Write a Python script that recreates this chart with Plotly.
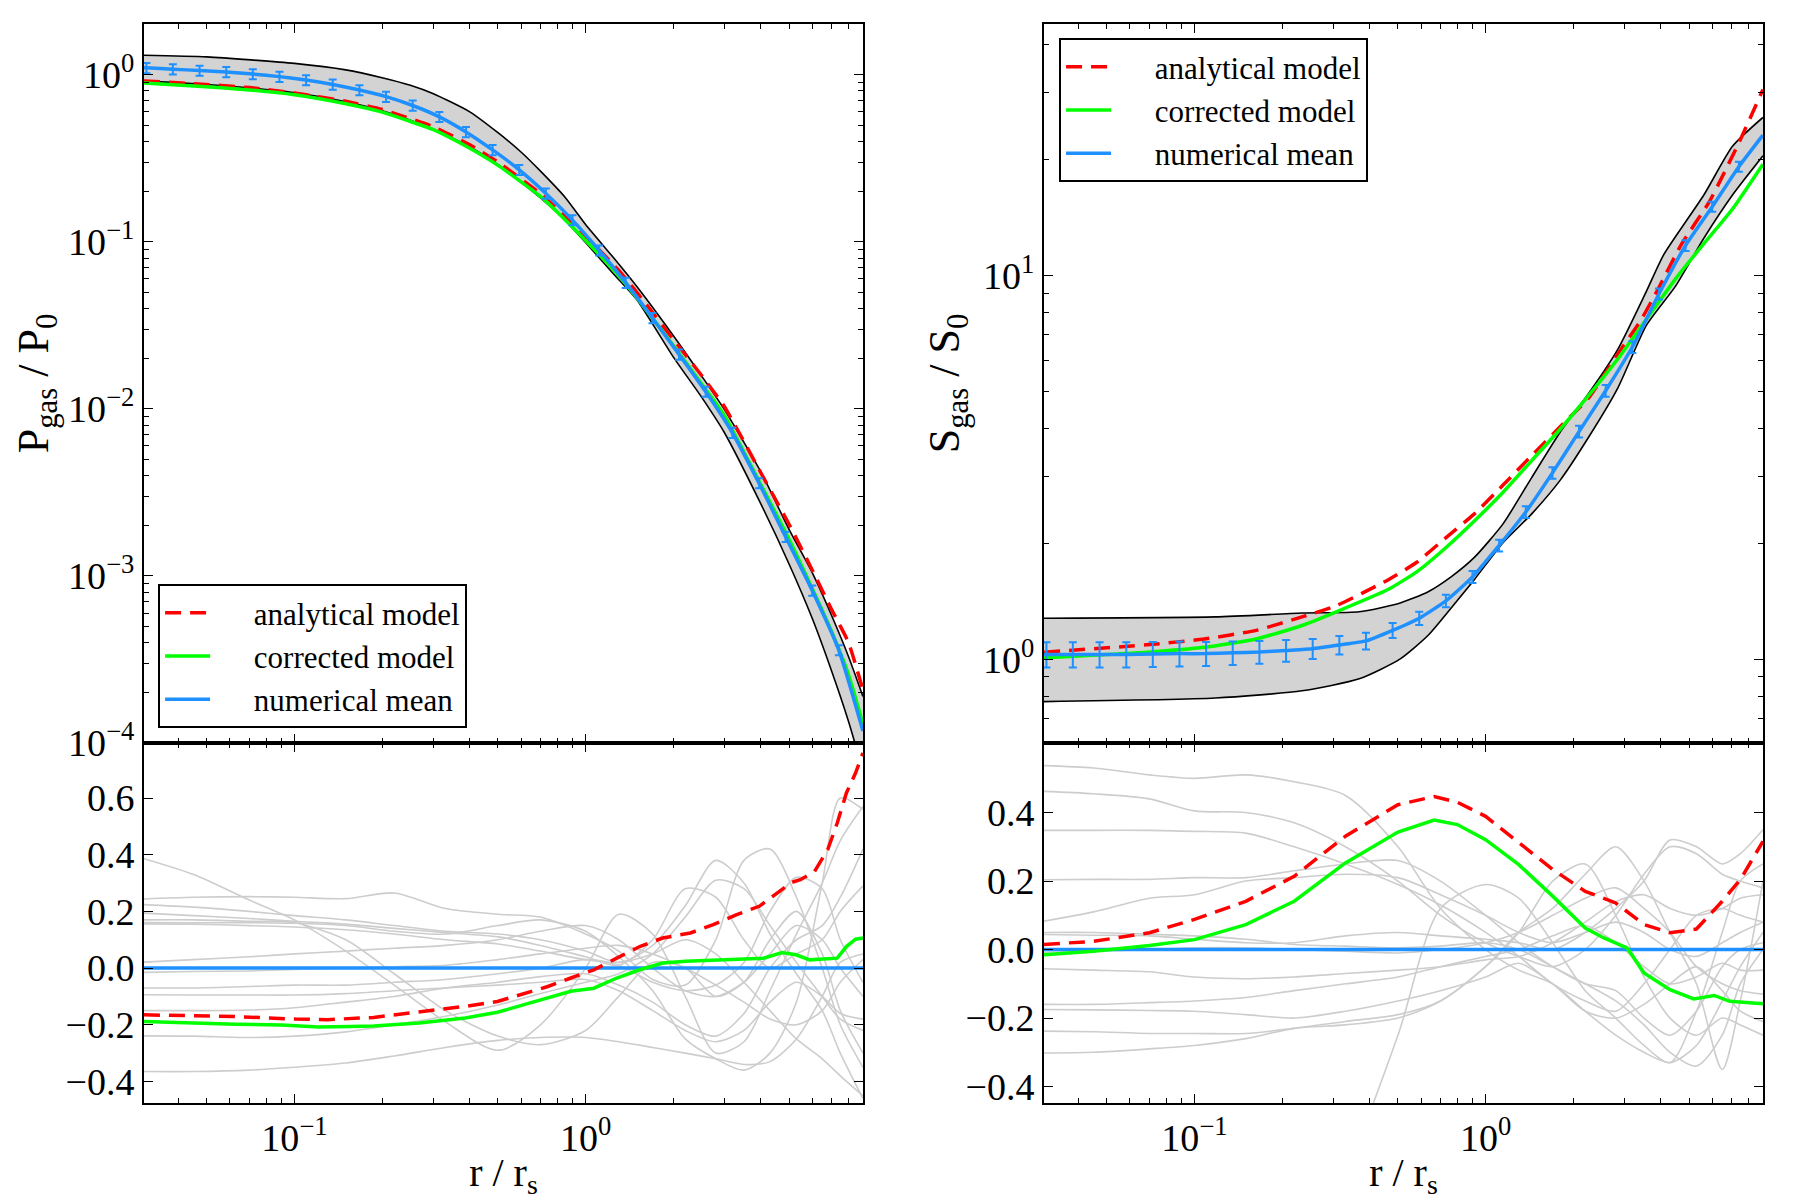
import plotly.graph_objects as go

FONT = "Liberation Serif"
BLUE = "#1E90FF"
GREEN = "#00FF00"
RED = "#FF0000"
SIMGRAY = "#CDCDCD"
BANDGRAY = "#D3D3D3"

# ---------------- data ----------------
# radial bins of the numerical mean (error-bar locations)
R_BINS = [0.0310, 0.0382, 0.0472, 0.0583, 0.0719, 0.0888, 0.1096, 0.1353, 0.1671,
          0.2063, 0.2547, 0.3145, 0.3882, 0.4793, 0.5916, 0.7304, 0.9016, 1.113,
          1.374, 1.697, 2.094, 2.585, 3.192, 3.940, 4.864, 6.005, 7.413]
R_EDGES = [0.0304, 8.97]

# --- pressure, top-left ---
P_MEAN = [1.10, 1.08, 1.06, 1.04, 1.01, 0.975, 0.93, 0.875, 0.81, 0.74, 0.655, 0.56,
          0.455, 0.355, 0.27, 0.195, 0.135, 0.089, 0.057, 0.035, 0.0212, 0.0127,
          0.0072, 0.0036, 0.00172, 0.00082, 0.00036]
P_MEAN_EDGES = [1.10, 0.000118]
P_ERR_FRAC = [0.07] * 27

P_MODEL_R = [0.0304, 0.045, 0.07, 0.1, 0.15, 0.2, 0.3, 0.4, 0.5, 0.7, 1.0, 1.3, 1.6,
             2.0, 2.5, 3.0, 4.0, 5.0, 6.0, 7.0, 8.0, 8.97]
P_ANALYTIC = [0.918, 0.885, 0.838, 0.779, 0.694, 0.620, 0.488, 0.381, 0.300, 0.194,
              0.108, 0.0675, 0.0432, 0.0261, 0.0159, 0.0103, 0.00415, 0.00204,
              0.00109, 0.00063, 0.00040, 0.000208]
P_CORRECTED = [0.893, 0.858, 0.812, 0.759, 0.671, 0.598, 0.469, 0.363, 0.287, 0.187,
               0.102, 0.0627, 0.040, 0.024, 0.0142, 0.0091, 0.00352, 0.00166,
               0.000845, 0.000465, 0.000257, 0.0001305]

P_BAND_R = [0.0304, 0.05, 0.1, 0.15, 0.2, 0.25, 0.3, 0.4, 0.5, 0.6, 0.7, 0.85, 1.0, 1.25,
            1.5, 2.0, 2.5, 3.0, 4.0, 5.0, 6.0, 7.0, 8.0, 8.97]
P_BAND_UP = [1.31, 1.28, 1.17, 1.07, 0.96, 0.865, 0.77, 0.60, 0.45, 0.345, 0.265, 0.185,
             0.127, 0.080, 0.054, 0.0275, 0.0158, 0.0099, 0.0042, 0.0019, 0.00105,
             0.00058, 0.00033, 0.00019]
P_BAND_LO = [0.92, 0.875, 0.78, 0.69, 0.61, 0.535, 0.47, 0.37, 0.29, 0.228, 0.183, 0.135,
             0.099, 0.064, 0.045, 0.0205, 0.0118, 0.0072, 0.0027, 0.00118, 0.00056,
             0.00027, 0.000135, 0.000068]

# --- entropy, top-right ---
S_MEAN = [1.03, 1.03, 1.03, 1.03, 1.033, 1.035, 1.035, 1.04, 1.045, 1.055, 1.066, 1.09,
          1.117, 1.19, 1.28, 1.42, 1.64, 1.98, 2.42, 3.06, 3.92, 5.01, 6.51, 8.95,
          11.97, 15.1, 19.2]
S_MEAN_EDGES = [1.03, 23.2]
S_ERR_FRAC = [0.075, 0.075, 0.075, 0.075, 0.075, 0.075, 0.072, 0.07, 0.068, 0.065,
              0.06, 0.055, 0.05, 0.045, 0.04, 0.038, 0.036, 0.035, 0.035, 0.035,
              0.035, 0.035, 0.035, 0.033, 0.032, 0.03, 0.03]

S_AN_R = [0.0304, 0.0686, 0.108, 0.163, 0.234, 0.307, 0.462, 0.58, 0.728, 0.913, 1.146,
          1.438, 1.80, 2.26, 2.84, 3.41, 3.91, 4.69, 5.88, 7.38, 8.97]
S_ANALYTIC = [1.044, 1.091, 1.13, 1.19, 1.29, 1.38, 1.61, 1.79, 2.07, 2.39, 2.84, 3.39,
              4.03, 4.80, 6.23, 7.63, 9.2, 12.0, 15.6, 22.0, 30.5]
S_CO_R = [0.0304, 0.0686, 0.108, 0.163, 0.234, 0.307, 0.462, 0.58, 0.728, 0.913, 1.146,
          1.438, 1.80, 2.26, 2.84, 3.54, 4.48, 5.62, 7.05, 8.97]
S_CORRECTED = [1.01, 1.044, 1.075, 1.13, 1.225, 1.33, 1.52, 1.69, 1.95, 2.29, 2.72,
               3.29, 3.97, 4.87, 6.05, 7.63, 9.77, 12.1, 14.9, 19.5]

S_BAND_UP_R = [0.0304, 0.118, 0.234, 0.368, 0.506, 0.635, 0.761, 0.913, 1.146, 1.438,
               1.805, 2.264, 2.842, 3.567, 4.085, 5.62, 7.05, 8.97]
S_BAND_UP = [1.28, 1.29, 1.32, 1.33, 1.40, 1.50, 1.64, 1.84, 2.25, 2.97, 3.91, 4.94,
             6.41, 9.09, 11.3, 16.2, 21.7, 25.8]
S_BAND_LO_R = [0.0304, 0.118, 0.234, 0.368, 0.506, 0.635, 0.797, 0.913, 1.146, 1.438,
               1.805, 2.264, 2.842, 3.567, 4.48, 5.62, 7.05, 8.97]
S_BAND_LO = [0.776, 0.793, 0.828, 0.89, 1.0, 1.156, 1.42, 1.61, 2.01, 2.39, 2.93, 3.80,
             5.08, 7.41, 9.35, 12.5, 16.2, 20.5]

# --- residuals, bottom panels ---
RES_MEAN_R = [0.0304, 8.97]
RES_MEAN = [0.0, 0.0]

RES_P_AN_R = [0.0304, 0.0436, 0.0627, 0.1006, 0.130, 0.187, 0.268, 0.386, 0.498, 0.619,
              0.742, 0.890, 1.067, 1.280, 1.535, 1.840, 2.290, 2.745, 3.29, 3.95, 4.56,
              5.09, 5.47, 6.12, 6.79, 7.32, 7.87, 8.46, 8.97]
RES_P_AN = [-0.165, -0.168, -0.171, -0.180, -0.182, -0.174, -0.156, -0.135, -0.118,
            -0.088, -0.065, -0.035, -0.006, 0.035, 0.076, 0.106, 0.124, 0.153, 0.188,
            0.218, 0.265, 0.302, 0.312, 0.341, 0.418, 0.512, 0.618, 0.688, 0.759]
RES_P_CO_R = [0.0304, 0.0436, 0.0627, 0.0902, 0.121, 0.156, 0.187, 0.268, 0.386, 0.498,
              0.619, 0.742, 0.890, 1.067, 1.280, 1.535, 1.840, 2.207, 2.845, 3.41, 4.09,
              4.73, 5.28, 5.89, 6.56, 7.32, 7.87, 8.46, 8.97]
RES_P_CO = [-0.188, -0.194, -0.198, -0.201, -0.208, -0.206, -0.204, -0.194, -0.176,
            -0.156, -0.129, -0.106, -0.082, -0.071, -0.035, -0.006, 0.018, 0.024, 0.029,
            0.032, 0.035, 0.055, 0.047, 0.029, 0.032, 0.035, 0.076, 0.102, 0.106]

RES_S_AN_R = [0.0304, 0.045, 0.07, 0.1, 0.15, 0.22, 0.33, 0.5, 0.666, 0.8, 1.0, 1.3, 1.7,
              2.2, 2.8, 3.5, 4.3, 5.3, 6.5, 7.5, 8.97]
RES_S_AN = [0.015, 0.024, 0.049, 0.088, 0.141, 0.214, 0.331, 0.423, 0.447, 0.43, 0.389,
            0.311, 0.234, 0.170, 0.136, 0.073, 0.049, 0.060, 0.141, 0.204, 0.316]
RES_S_CO_R = [0.0304, 0.045, 0.07, 0.1, 0.15, 0.22, 0.33, 0.5, 0.666, 0.8, 1.0, 1.3, 1.7,
              2.2, 2.55, 2.8, 3.06, 3.5, 4.3, 5.19, 6.1, 6.9, 8.97]
RES_S_CO = [-0.015, -0.005, 0.012, 0.029, 0.073, 0.141, 0.253, 0.343, 0.378, 0.365,
            0.321, 0.248, 0.156, 0.063, 0.034, 0.019, 0.005, -0.068, -0.117, -0.144,
            -0.134, -0.151, -0.158]

# individual simulated clusters (grey), sampled at R_SIM
R_SIM = [0.0304, 0.045, 0.07, 0.1, 0.15, 0.22, 0.33, 0.5, 0.7, 1.0, 1.3, 1.7, 2.2, 2.8,
         3.5, 4.3, 5.3, 6.5, 7.5, 8.97]
P_SIMS = [
    [0.386, 0.33, 0.24, 0.17, 0.06, -0.06, -0.19, -0.29, -0.20, 0.00, 0.19, 0.12, -0.10, -0.30, -0.26, -0.08, 0.12, 0.30, 0.45, 0.57],
    [0.244, 0.25, 0.252, 0.25, 0.245, 0.265, 0.21, 0.19, 0.18, 0.12, 0.06, -0.04, -0.06, 0.10, 0.38, 0.42, 0.25, 0.00, -0.20, -0.35],
    [0.224, 0.215, 0.20, 0.185, 0.17, 0.15, 0.13, 0.12, 0.10, 0.06, 0.02, 0.08, 0.22, 0.38, 0.30, 0.12, -0.02, -0.15, -0.30, -0.46],
    [0.194, 0.185, 0.175, 0.165, 0.155, 0.14, 0.125, 0.11, 0.08, 0.04, 0.01, 0.10, 0.28, 0.25, 0.10, 0.00, 0.05, 0.10, 0.20, 0.29],
    [0.161, 0.16, 0.16, 0.158, 0.15, 0.13, 0.12, 0.15, 0.17, 0.13, 0.04, -0.08, -0.25, -0.32, -0.36, -0.30, -0.12, 0.30, 0.60, 0.56],
    [0.156, 0.155, 0.15, 0.145, 0.135, 0.12, 0.10, 0.085, 0.06, 0.03, 0.02, 0.05, 0.10, 0.05, -0.05, -0.15, -0.25, -0.32, -0.38, -0.45],
    [0.021, 0.03, 0.04, 0.05, 0.06, 0.07, 0.08, 0.10, 0.13, 0.15, 0.10, 0.00, -0.08, -0.10, -0.05, 0.05, 0.15, 0.10, 0.00, -0.10],
    [-0.015, -0.012, -0.01, -0.005, 0.0, 0.005, 0.01, 0.03, 0.05, 0.07, 0.08, 0.05, 0.0, -0.06, -0.12, -0.18, -0.20, -0.15, -0.05, 0.03],
    [-0.07, -0.07, -0.065, -0.06, -0.06, -0.05, -0.04, -0.02, 0.0, 0.03, 0.01, -0.05, -0.08, -0.06, 0.02, 0.20, 0.32, 0.28, 0.10, -0.05],
    [-0.094, -0.095, -0.095, -0.095, -0.09, -0.08, -0.07, -0.06, -0.05, -0.04, -0.08, -0.15, -0.22, -0.26, -0.22, -0.12, -0.05, -0.10, -0.16, -0.18],
    [-0.15, -0.15, -0.148, -0.14, -0.12, -0.10, -0.07, -0.05, -0.03, -0.02, -0.06, -0.12, -0.20, -0.24, -0.16, 0.00, 0.10, 0.15, 0.25, 0.42],
    [-0.239, -0.24, -0.245, -0.24, -0.225, -0.20, -0.17, -0.13, -0.09, -0.05, -0.02, 0.05, 0.18, 0.31, 0.28, 0.15, 0.02, -0.10, -0.18, -0.22],
    [-0.365, -0.365, -0.36, -0.35, -0.335, -0.31, -0.28, -0.255, -0.245, -0.245, -0.26, -0.28, -0.30, -0.32, -0.34, -0.33, -0.25, -0.10, 0.02, 0.05],
    [0.17, 0.17, 0.165, 0.16, 0.10, -0.02, -0.15, -0.24, -0.27, -0.22, -0.10, 0.02, 0.0, -0.10, -0.05, 0.10, 0.20, 0.05, -0.15, -0.30],
]
S_SIMS = [
    [0.537, 0.53, 0.51, 0.50, 0.51, 0.49, 0.45, 0.30, 0.12, 0.00, -0.06, -0.10, -0.18, -0.25, -0.30, -0.33, -0.28, -0.15, -0.05, 0.05],
    [0.462, 0.455, 0.44, 0.405, 0.40, 0.37, 0.30, 0.20, 0.10, 0.02, -0.02, -0.05, 0.0, 0.10, 0.22, 0.30, 0.28, 0.22, 0.20, 0.18],
    [0.348, 0.348, 0.348, 0.345, 0.34, 0.30, 0.25, 0.19, 0.13, 0.05, -0.02, -0.10, -0.15, -0.18, -0.10, 0.0, 0.10, 0.12, 0.10, 0.08],
    [0.204, 0.205, 0.205, 0.21, 0.21, 0.23, 0.25, 0.26, 0.20, 0.10, 0.02, -0.05, -0.10, -0.12, -0.20, -0.25, -0.18, -0.05, 0.0, 0.02],
    [0.083, 0.11, 0.15, 0.16, 0.20, 0.21, 0.22, 0.21, 0.16, 0.10, 0.05, 0.02, 0.05, 0.08, 0.05, 0.0, -0.02, 0.02, 0.05, 0.08],
    [0.05, 0.05, 0.045, 0.04, 0.03, 0.015, 0.01, 0.005, 0.01, 0.02, 0.0, -0.05, -0.10, -0.15, -0.22, -0.30, -0.34, -0.25, -0.10, 0.00],
    [0.044, 0.042, 0.04, 0.03, 0.02, 0.02, 0.04, 0.05, 0.04, 0.03, 0.02, 0.00, 0.05, 0.12, 0.20, 0.32, 0.30, 0.25, 0.28, 0.35],
    [-0.008, -0.005, 0.0, 0.005, 0.005, 0.0, -0.005, -0.01, 0.0, 0.02, 0.05, 0.10, 0.15, 0.18, 0.12, 0.05, -0.05, -0.10, -0.12, -0.13],
    [-0.056, -0.06, -0.065, -0.08, -0.085, -0.08, -0.07, -0.06, -0.05, -0.03, -0.02, 0.02, 0.08, 0.14, 0.16, 0.12, 0.10, 0.12, 0.15, 0.16],
    [-0.16, -0.16, -0.155, -0.15, -0.14, -0.12, -0.10, -0.08, -0.05, -0.02, 0.0, 0.04, 0.07, 0.02, -0.05, -0.10, -0.08, -0.04, -0.06, -0.06],
    [-0.175, -0.176, -0.178, -0.18, -0.19, -0.20, -0.18, -0.15, -0.12, -0.08, -0.04, -0.10, -0.18, -0.20, -0.16, -0.10, -0.05, -0.12, -0.18, -0.21],
    [-0.238, -0.24, -0.245, -0.245, -0.245, -0.23, -0.21, -0.19, -0.15, -0.05, 0.05, 0.12, 0.22, 0.30, 0.20, 0.05, -0.10, -0.35, -0.15, 0.20],
    [-0.302, -0.30, -0.29, -0.28, -0.26, -0.23, -0.22, -0.20, -0.15, -0.05, 0.05, 0.20, 0.25, 0.10, -0.08, -0.20, -0.25, -0.20, -0.22, -0.25],
    [-3.0, -2.5, -2.0, -1.6, -1.2, -0.9, -0.65, -0.25, 0.12, 0.19, 0.15, 0.02, -0.12, -0.20, -0.28, -0.33, -0.18, 0.05, 0.20, 0.25],
]

LEGEND_NAMES = ["analytical model", "corrected model", "numerical mean"]

# axis tick definitions
X_TICKS = [0.1, 1.0]
X_TICKTEXT = ["10<sup>\u22121</sup>", "10<sup>0</sup>"]
X_MINOR = [m * 10.0 ** e for e in (-2, -1, 0) for m in range(2, 10)]
P_TICKS = [1e-4, 1e-3, 1e-2, 1e-1, 1.0]
P_TICKTEXT = ["10<sup>\u22124</sup>", "10<sup>\u22123</sup>", "10<sup>\u22122</sup>",
              "10<sup>\u22121</sup>", "10<sup>0</sup>"]
P_MINOR = [m * 10.0 ** e for e in range(-4, 1) for m in range(2, 10)]
S_TICKS = [1.0, 10.0]
S_TICKTEXT = ["10<sup>0</sup>", "10<sup>1</sup>"]
S_MINOR = [m * 10.0 ** e for e in (-1, 0, 1) for m in range(2, 10)]

PAD = "\u00a0\u00a0\u00a0\u00a0\u00a0"

# ---------------- figure ----------------
fig = go.Figure()


def band(xu, yu, xl, yl, xa, ya):
    fig.add_trace(go.Scatter(x=xu + xl[::-1], y=yu + yl[::-1], fill="toself",
                             fillcolor=BANDGRAY, line=dict(width=0, shape="spline", smoothing=0.6),
                             mode="lines", xaxis=xa, yaxis=ya, showlegend=False, hoverinfo="skip"))
    for xx, yy in ((xu, yu), (xl, yl)):
        fig.add_trace(go.Scatter(x=xx, y=yy, mode="lines",
                                 line=dict(color="black", width=1.6, shape="spline", smoothing=0.6),
                                 xaxis=xa, yaxis=ya, showlegend=False, hoverinfo="skip"))


def mean_with_err(vals, edges, fracs, xa, ya, legend):
    fig.add_trace(go.Scatter(x=[R_EDGES[0]] + R_BINS + [R_EDGES[1]],
                             y=[edges[0]] + vals + [edges[1]], mode="lines",
                             line=dict(color=BLUE, width=3.5, shape="spline", smoothing=0.5),
                             name=PAD + LEGEND_NAMES[2],
                             xaxis=xa, yaxis=ya, legend=legend, showlegend=True))
    fig.add_trace(go.Scatter(x=R_BINS, y=vals, mode="markers",
                             marker=dict(color="rgba(0,0,0,0)", size=1),
                             error_y=dict(type="data", array=[v * f for v, f in zip(vals, fracs)],
                                          color=BLUE, thickness=2, width=4),
                             xaxis=xa, yaxis=ya, showlegend=False, hoverinfo="skip"))


def models(xa_r, an, co_r, co, xa, ya, legend):
    fig.add_trace(go.Scatter(x=xa_r, y=an, mode="lines", name=PAD + LEGEND_NAMES[0],
                             line=dict(color=RED, width=3.5, dash="16px,9px", shape="spline", smoothing=0.5),
                             xaxis=xa, yaxis=ya, legend=legend))
    fig.add_trace(go.Scatter(x=co_r, y=co, mode="lines", name=PAD + LEGEND_NAMES[1],
                             line=dict(color=GREEN, width=3.5, shape="spline", smoothing=0.5),
                             xaxis=xa, yaxis=ya, legend=legend))


# top-left: pressure
band(P_BAND_R, P_BAND_UP, P_BAND_R, P_BAND_LO, "x", "y")
models(P_MODEL_R, P_ANALYTIC, P_MODEL_R, P_CORRECTED, "x", "y", "legend")
mean_with_err(P_MEAN, P_MEAN_EDGES, P_ERR_FRAC, "x", "y", "legend")

# top-right: entropy
band(S_BAND_UP_R, S_BAND_UP, S_BAND_LO_R, S_BAND_LO, "x2", "y2")
models(S_AN_R, S_ANALYTIC, S_CO_R, S_CORRECTED, "x2", "y2", "legend2")
mean_with_err(S_MEAN, S_MEAN_EDGES, S_ERR_FRAC, "x2", "y2", "legend2")

# bottom panels: residuals
for sims, res_an_r, res_an, res_co_r, res_co, xa, ya in (
        (P_SIMS, RES_P_AN_R, RES_P_AN, RES_P_CO_R, RES_P_CO, "x3", "y3"),
        (S_SIMS, RES_S_AN_R, RES_S_AN, RES_S_CO_R, RES_S_CO, "x4", "y4")):
    for s in sims:
        fig.add_trace(go.Scatter(x=R_SIM, y=s, mode="lines",
                                 line=dict(color=SIMGRAY, width=1.6, shape="spline", smoothing=0.8),
                                 xaxis=xa, yaxis=ya, showlegend=False, hoverinfo="skip"))
    fig.add_trace(go.Scatter(x=RES_MEAN_R, y=RES_MEAN, mode="lines", line=dict(color=BLUE, width=3.5),
                             xaxis=xa, yaxis=ya, showlegend=False))
    fig.add_trace(go.Scatter(x=res_an_r, y=res_an, mode="lines",
                             line=dict(color=RED, width=3.5, dash="16px,9px"),
                             xaxis=xa, yaxis=ya, showlegend=False))
    fig.add_trace(go.Scatter(x=res_co_r, y=res_co, mode="lines", line=dict(color=GREEN, width=3.5),
                             xaxis=xa, yaxis=ya, showlegend=False))

# ---------------- layout ----------------
TICKFONT = dict(family=FONT, size=38, color="black")
XTITLEFONT = dict(family=FONT, size=40, color="black")
YTITLEFONT = dict(family=FONT, size=44, color="black")
MINOR_STYLE = dict(ticks="inside", ticklen=5, tickwidth=1, tickcolor="black", showgrid=False)


def base_axis(**kw):
    d = dict(ticks="inside", ticklen=9, tickwidth=1.3, tickcolor="black",
             showline=True, linecolor="black", linewidth=2, mirror="ticks",
             showgrid=False, zeroline=False, tickfont=TICKFONT, automargin=False)
    d.update(kw)
    return d


XL = [0.0, 0.4441]
XR = [0.5559, 1.0]
YT = [0.3336, 1.0]
YB = [0.0, 0.3336]
XRANGE = [-1.517, 0.953]

x_common = dict(type="log", range=XRANGE, tickmode="array", tickvals=X_TICKS, ticktext=X_TICKTEXT,
                minor=dict(tickmode="array", tickvals=X_MINOR, **MINOR_STYLE))

LEGEND_STYLE = dict(bgcolor="white", bordercolor="black", borderwidth=2,
                    font=dict(family=FONT, size=31, color="black"),
                    traceorder="normal", itemwidth=45)

fig.update_layout(
    width=1800, height=1200,
    margin=dict(l=144, r=37, t=24, b=97),
    paper_bgcolor="white", plot_bgcolor="white",
    font=dict(family=FONT, size=34, color="black"),
    xaxis=base_axis(domain=XL, anchor="y", showticklabels=False, **x_common),
    xaxis2=base_axis(domain=XR, anchor="y2", showticklabels=False, **x_common),
    xaxis3=base_axis(domain=XL, anchor="y3", **x_common,
                     title=dict(text="r / r<sub>s</sub>", font=XTITLEFONT, standoff=10)),
    xaxis4=base_axis(domain=XR, anchor="y4", **x_common,
                     title=dict(text="r / r<sub>s</sub>", font=XTITLEFONT, standoff=10)),
    yaxis=base_axis(domain=YT, anchor="x", type="log", range=[-4, 0.304], tickmode="array",
                    tickvals=P_TICKS, ticktext=P_TICKTEXT,
                    minor=dict(tickmode="array", tickvals=P_MINOR, **MINOR_STYLE),
                    title=dict(text="P<sub>gas</sub> / P<sub>0</sub>", font=YTITLEFONT, standoff=6)),
    yaxis2=base_axis(domain=YT, anchor="x2", type="log", range=[-0.218, 1.655], tickmode="array",
                     tickvals=S_TICKS, ticktext=S_TICKTEXT,
                     minor=dict(tickmode="array", tickvals=S_MINOR, **MINOR_STYLE),
                     title=dict(text="S<sub>gas</sub> / S<sub>0</sub>", font=YTITLEFONT, standoff=10)),
    yaxis3=base_axis(domain=YB, anchor="x3", range=[-0.476, 0.794], tickmode="array",
                     tickvals=[-0.4, -0.2, 0.0, 0.2, 0.4, 0.6], tickformat=".1f"),
    yaxis4=base_axis(domain=YB, anchor="x4", range=[-0.448, 0.603], tickmode="array",
                     tickvals=[-0.4, -0.2, 0.0, 0.2, 0.4], tickformat=".1f"),
    legend=dict(x=0.0087, y=0.3475, xanchor="left", yanchor="bottom", **LEGEND_STYLE),
    legend2=dict(x=0.5652, y=0.987, xanchor="left", yanchor="top", **LEGEND_STYLE),
    showlegend=True,
)

fig.write_html("out.html")
